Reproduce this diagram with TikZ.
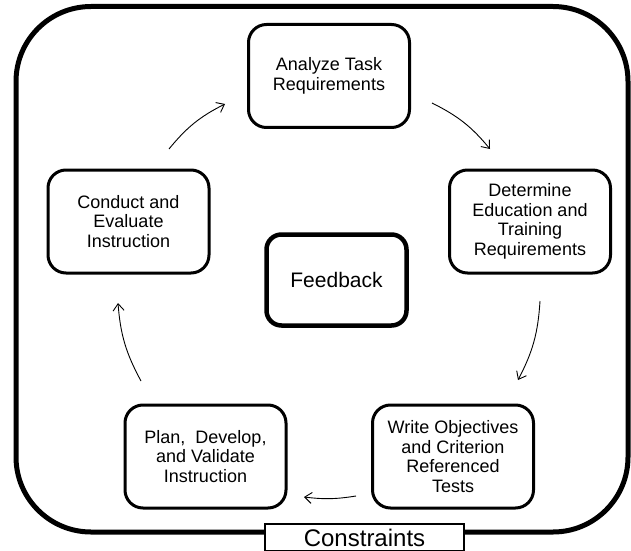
\documentclass[tikz,border=0pt]{standalone}
\usepackage{fontspec}
\setmainfont{Liberation Sans}
\usetikzlibrary{arrows.meta}

\begin{document}
\begin{tikzpicture}[x=1pt,y=1pt,
  stage/.style={draw=drawColor,line width=3pt,rounded corners=18pt,fill=fillColor,
    align=center,inner sep=0pt,minimum width=161pt,minimum height=103pt,
    font=\fontsize{18}{19.5}\selectfont},
  hub/.style={draw=drawColor,line width=4.5pt,rounded corners=15pt,fill=fillColor,
    inner sep=0pt,minimum width=140pt,minimum height=91pt,
    font=\fontsize{21}{24}\selectfont},
  tag/.style={draw=drawColor,line width=2pt,fill=fillColor,inner sep=0pt,
    minimum width=199pt,minimum height=27pt,font=\fontsize{24}{28}\selectfont},
  flow/.style={draw=drawColor,line width=0.9pt,-{Straight Barb[length=7pt,width=11pt]}}]
\definecolor[named]{fillColor}{rgb}{1.00,1.00,1.00}
\definecolor[named]{drawColor}{rgb}{0.00,0.00,0.00}
\path[use as bounding box,fill=fillColor] (0,0) rectangle (631,550);

\path[draw=drawColor,line width=5pt,rounded corners=75pt] (16,18) rectangle (628,543.5);

\node[stage] (analyze) at (329,474) {Analyze Task\\Requirements};
\node[stage] (determine) at (530,328.5) {Determine\\Education and\\Training\\Requirements};
\node[stage] (write) at (453,93.5) {Write Objectives\\and Criterion\\Referenced\\Tests};
\node[stage] (plan) at (205.5,93.5) {Plan,~ Develop,\\and Validate\\Instruction};
\node[stage] (conduct) at (128.5,328.5) {Conduct and\\Evaluate\\Instruction};
\node[hub] (feedback) at (336.5,270) {Feedback};
\node[tag] (constraints) at (364.5,12.5) {Constraints};

\coordinate (ca0) at (169,401); \coordinate (ca1) at (225,446);
\coordinate (ad0) at (432,447); \coordinate (ad1) at (490,401);
\coordinate (dw0) at (540,249); \coordinate (dw1) at (518,170);
\coordinate (wp0) at (356,54); \coordinate (wp1) at (304,53);
\coordinate (pc0) at (141,169); \coordinate (pc1) at (118,247);

\draw[flow] (ca0) to[bend left=12] (ca1);
\draw[flow] (ad0) to[bend left=12] (ad1);
\draw[flow] (dw0) to[bend left=12] (dw1);
\draw[flow] (wp0) to[bend left=8] (wp1);
\draw[flow] (pc0) to[bend left=12] (pc1);
\end{tikzpicture}
\end{document}
